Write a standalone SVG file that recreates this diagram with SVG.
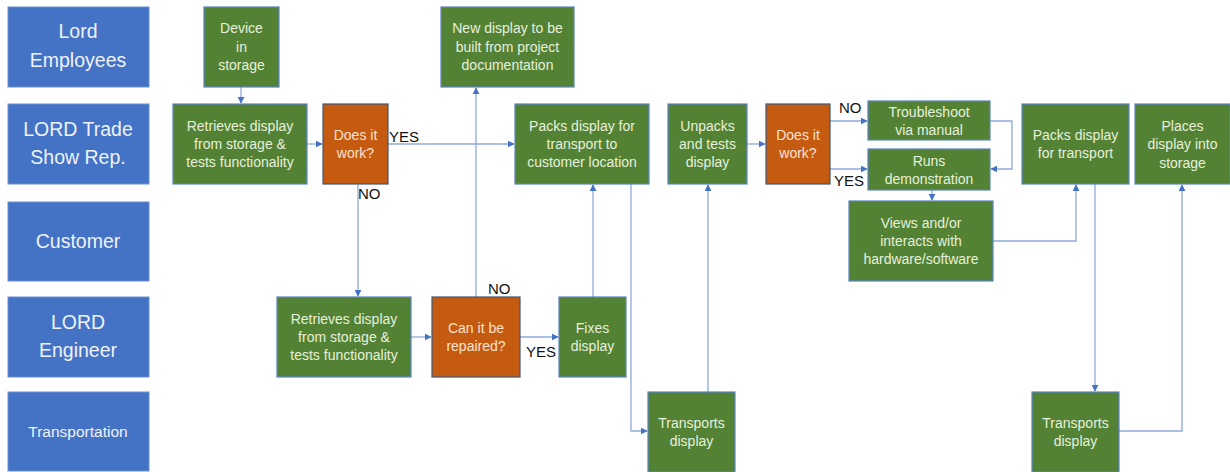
<svg xmlns="http://www.w3.org/2000/svg" width="1230" height="472" viewBox="0 0 1230 472">
<defs>
<marker id="ah" viewBox="0 0 10 10" refX="9" refY="5" markerWidth="7" markerHeight="7" markerUnits="userSpaceOnUse" orient="auto">
<path d="M0,0 L10,5 L0,10 z" fill="#4472C4"/>
</marker>
<style>
.lane{fill:#4472C4;stroke:#6b8fd0;stroke-width:1}
.g{fill:#548235;stroke:#5b84c4;stroke-width:1.2}
.o{fill:#C55A11;stroke:#3f5878;stroke-width:1.2}
.lt{font-family:"Liberation Sans",Arial,sans-serif;fill:#eef2fa;text-anchor:middle}
.gt{font-family:"Liberation Sans",Arial,sans-serif;font-size:14px;fill:#e6f0dc;text-anchor:middle}
.ot{font-family:"Liberation Sans",Arial,sans-serif;font-size:14px;fill:#fbe2cf;text-anchor:middle}
.lbl{font-family:"Liberation Sans",Arial,sans-serif;font-size:15px;fill:#111}
.c{fill:none;stroke:#8eaadb;stroke-width:1.3;marker-end:url(#ah)}
</style>
</defs>
<rect width="1230" height="472" fill="#ffffff"/>

<g id="lane-employees"><rect class="lane" x="8" y="7" width="141" height="80"/><text class="lt" font-size="19.5" x="78" y="38">Lord</text><text class="lt" font-size="19.5" x="78" y="67">Employees</text></g>
<g id="lane-traderep"><rect class="lane" x="8" y="104" width="141" height="80"/><text class="lt" font-size="19.5" x="78" y="136">LORD Trade</text><text class="lt" font-size="19.5" x="78" y="164">Show Rep.</text></g>
<g id="lane-customer"><rect class="lane" x="8" y="202" width="141" height="79"/><text class="lt" font-size="19.5" x="78" y="248">Customer</text></g>
<g id="lane-engineer"><rect class="lane" x="8" y="297" width="141" height="80"/><text class="lt" font-size="19.5" x="78" y="329">LORD</text><text class="lt" font-size="19.5" x="78" y="357">Engineer</text></g>
<g id="lane-transport"><rect class="lane" x="8" y="392" width="141" height="79"/><text class="lt" font-size="15.5" x="78" y="437">Transportation</text></g>

<g id="connectors">
<path class="c" d="M241,87 V103"/>
<path class="c" d="M307,144 H322"/>
<path class="c" d="M388,144 H514"/>
<path class="c" d="M358,184 V296"/>
<path class="c" d="M411,337 H431"/>
<path class="c" d="M520,337 H558"/>
<path class="c" d="M476,297 V88"/>
<path class="c" d="M593,297 V185"/>
<path class="c" d="M631,184 V431 H647"/>
<path class="c" d="M708,392 V185"/>
<path class="c" d="M747,144 H765"/>
<path class="c" d="M830,121 H867"/>
<path class="c" d="M830,169 H867"/>
<path class="c" d="M990,121 H1012 V169 H991"/>
<path class="c" d="M932,190 V200"/>
<path class="c" d="M993,241 H1076 V185"/>
<path class="c" d="M1095,184 V391"/>
<path class="c" d="M1119,431 H1182 V185"/>
</g>

<g id="n-device"><rect class="g" x="204" y="7" width="75" height="80"/><text class="gt" x="241.5" y="33">Device</text><text class="gt" x="241.5" y="51.5">in</text><text class="gt" x="241.5" y="70">storage</text></g>
<g id="n-retrieve1"><rect class="g" x="173" y="104" width="134" height="80"/><text class="gt" x="240" y="131">Retrieves display</text><text class="gt" x="240" y="149">from storage &amp;</text><text class="gt" x="240" y="167">tests functionality</text></g>
<g id="n-works1"><rect class="o" x="323" y="104" width="65" height="80"/><text class="ot" x="355.5" y="140">Does it</text><text class="ot" x="355.5" y="158">work?</text></g>
<g id="n-newdisplay"><rect class="g" x="441" y="7" width="133" height="80"/><text class="gt" x="507.5" y="33">New display to be</text><text class="gt" x="507.5" y="51.5">built from project</text><text class="gt" x="507.5" y="70">documentation</text></g>
<g id="n-packs1"><rect class="g" x="515" y="104" width="134" height="80"/><text class="gt" x="582" y="131">Packs display for</text><text class="gt" x="582" y="149">transport to</text><text class="gt" x="582" y="167">customer location</text></g>
<g id="n-unpacks"><rect class="g" x="668" y="104" width="79" height="80"/><text class="gt" x="707.5" y="131">Unpacks</text><text class="gt" x="707.5" y="149">and tests</text><text class="gt" x="707.5" y="167">display</text></g>
<g id="n-works2"><rect class="o" x="766" y="104" width="64" height="80"/><text class="ot" x="798" y="140">Does it</text><text class="ot" x="798" y="158">work?</text></g>
<g id="n-troubleshoot"><rect class="g" x="868" y="101" width="122" height="39"/><text class="gt" x="929" y="116.5">Troubleshoot</text><text class="gt" x="929" y="134.5">via manual</text></g>
<g id="n-runs"><rect class="g" x="868" y="149" width="122" height="41"/><text class="gt" x="929" y="165.5">Runs</text><text class="gt" x="929" y="183.5">demonstration</text></g>
<g id="n-packs2"><rect class="g" x="1022" y="104" width="107" height="80"/><text class="gt" x="1075.5" y="140">Packs display</text><text class="gt" x="1075.5" y="158">for transport</text></g>
<g id="n-places"><rect class="g" x="1135" y="104" width="95" height="80"/><text class="gt" x="1182.5" y="130.5">Places</text><text class="gt" x="1182.5" y="149">display into</text><text class="gt" x="1182.5" y="167.5">storage</text></g>
<g id="n-views"><rect class="g" x="849" y="201" width="144" height="80"/><text class="gt" x="921" y="228">Views and/or</text><text class="gt" x="921" y="246">interacts with</text><text class="gt" x="921" y="264">hardware/software</text></g>
<g id="n-retrieve2"><rect class="g" x="277" y="297" width="134" height="80"/><text class="gt" x="344" y="324">Retrieves display</text><text class="gt" x="344" y="342">from storage &amp;</text><text class="gt" x="344" y="360">tests functionality</text></g>
<g id="n-repair"><rect class="o" x="432" y="297" width="88" height="80"/><text class="ot" x="476" y="333">Can it be</text><text class="ot" x="476" y="351">repaired?</text></g>
<g id="n-fixes"><rect class="g" x="559" y="297" width="67" height="80"/><text class="gt" x="592.5" y="333">Fixes</text><text class="gt" x="592.5" y="351">display</text></g>
<g id="n-transport1"><rect class="g" x="648" y="392" width="87" height="80"/><text class="gt" x="691.5" y="428">Transports</text><text class="gt" x="691.5" y="446">display</text></g>
<g id="n-transport2"><rect class="g" x="1032" y="392" width="87" height="80"/><text class="gt" x="1075.5" y="428">Transports</text><text class="gt" x="1075.5" y="446">display</text></g>

<g id="labels">
<text class="lbl" x="389" y="142">YES</text>
<text class="lbl" x="358" y="199">NO</text>
<text class="lbl" x="488" y="294">NO</text>
<text class="lbl" x="526" y="357">YES</text>
<text class="lbl" x="839" y="113">NO</text>
<text class="lbl" x="834" y="186">YES</text>
</g>
</svg>
